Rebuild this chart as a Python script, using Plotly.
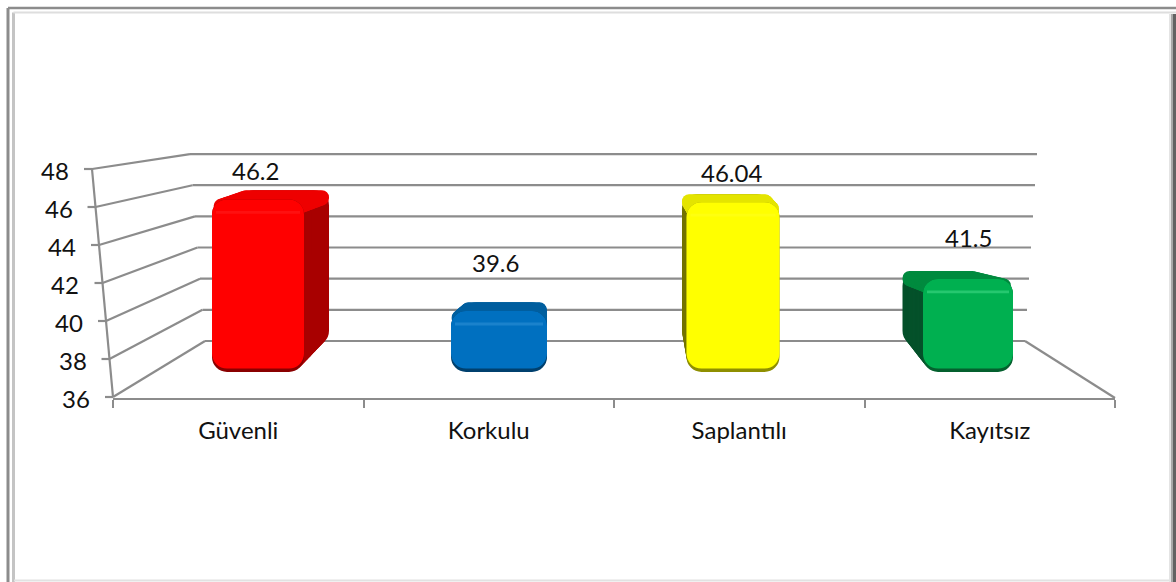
import plotly.graph_objects as go

# ---------- data ----------
categories = ["Güvenli", "Korkulu", "Saplantılı", "Kayıtsız"]
values = [46.2, 39.6, 46.04, 41.5]
y_ticks = [36, 38, 40, 42, 44, 46, 48]

# ---------- style ----------
W, H = 1176, 582
FONT = "Lato"
GRID = "#8c8c8c"
main_col = ["#ff0000", "#0070c0", "#ffff00", "#00b050"]
top_col = ["#ee0000", "#005f9f", "#e4e400", "#008a3e"]
side_col = ["#a80000", "#005a98", "#747400", "#04512a"]
edge_col = ["#8a0000", "#00406e", "#8f8f00", "#04602e"]
light_col = ["#ff1010", "#1a82cc", "#ffff10", "#25c86f"]
front_w = [92, 96, 93, 90]
front_nudge = [0, 4, 1, -1]
back_w = [90, 85, 90, 77]
back_dx = [26, 5, -6, -27]
back_rise = [0.55, 0.53, 0.47, 0.47]
label_shift_y = [29, 49, 30, 41]
label_shift_x = [-3, 0, -1, -1]

UNIT = 237.0            # px per category on the bar axis
X2_L, X2_R = 139.5, 1087.5
Y2_36, Y2_48 = 372, 169
LIFT = 1.55
N = 16


def xp(px):
    return px / W


def yp(py):
    return 1 - py / H


fig = go.Figure()
# invisible trace that gives the front floor axis its categories
fig.add_trace(go.Scatter(x=categories, y=[36] * 4, mode="markers", opacity=0,
                         showlegend=False, hoverinfo="skip"))


def layer(tops, bases, widths, offs, colors, radius):
    fig.add_trace(go.Bar(
        x=list(range(len(categories))),
        y=[t - b for t, b in zip(tops, bases)],
        base=bases, width=widths, offset=offs,
        marker=dict(color=colors, line=dict(width=0), cornerradius=radius),
        xaxis="x2", yaxis="y2", showlegend=False, hoverinfo="skip",
        cliponaxis=False))


def depth_geom(k):
    widths, offs = [], []
    for i in range(len(categories)):
        w = (front_w[i] + (back_w[i] - front_w[i]) * k)
        c = front_nudge[i] + back_dx[i] * k
        widths.append(w / UNIT)
        offs.append((c - w / 2) / UNIT)
    return widths, offs


# extrusion: side colour from back to front
for n in range(N, 0, -1):
    k = n / N
    w, o = depth_geom(k)
    layer([v + r * k for v, r in zip(values, back_rise)],
          [36 + LIFT * k] * 4, w, o, side_col, 15)
# extrusion: top face
for n in range(N, 0, -1):
    k = n / N
    w, o = depth_geom(k)
    tops = [v + r * k for v, r in zip(values, back_rise)]
    layer(tops, [t - 0.9 for t in tops], w, o, top_col, 12)

# front face
w, o = depth_geom(0)
layer(values, [36] * 4, w, o, edge_col, 15)
layer(values, [36.2] * 4, w, o, main_col, 15)
w2 = [x - 8 / UNIT for x in w]
o2 = [x + 4 / UNIT for x in o]
layer([v - 0.68 for v in values], [v - 0.85 for v in values], w2, o2, light_col, 0)

shapes = []


def line(x0, y0, x1, y1, color=GRID, width=2.2, layer_="below"):
    shapes.append(dict(type="line", xref="paper", yref="paper", layer=layer_,
                       x0=xp(x0), y0=yp(y0), x1=xp(x1), y1=yp(y1),
                       line=dict(color=color, width=width)))


annotations = []
for v in y_ticks:
    d = v - 36
    fy = 397 - d * 19
    fx = 113 - d * 1.75
    by = 341 - d * 15.58
    bl = 205 - d * 1.25
    br = 1025 + d * 1.0
    line(fx - 8, fy, fx, fy)                 # tick
    line(fx, fy, bl, by)                     # left wall
    line(bl, by, br, by)                     # back wall
    annotations.append(dict(text=str(v), xref="paper", yref="paper",
                            x=xp(fx - 21), y=yp(fy + 1), xanchor="right", yanchor="middle",
                            showarrow=False, font=dict(family=FONT, size=24, color="#111111")))
line(92, 169, 113, 397)          # slanted value axis
line(1025, 341, 1115, 398)       # right floor edge

# frame
line(8, 8, 8, 582, "#8c8c8c", 3, "above")
line(8, 8, 1176, 8, "#8c8c8c", 2.5, "above")
line(13.5, 12.5, 13.5, 582, "#c4c4c4", 3, "above")
line(13.5, 12.5, 1176, 12.5, "#dedede", 2, "above")
line(14, 580.5, 1170, 580.5, "#e2e2e2", 2, "above")
line(1170, 14, 1170, 582, "#e4e4e4", 2, "above")
line(1172, 14, 1172, 582, "#a8a8a8", 2, "above")
line(1174.5, 14, 1174.5, 582, "#626262", 3, "above")

# data labels
for i, v in enumerate(values):
    annotations.append(dict(text=str(v), xref="x2", yref="y2", x=i, y=v,
                            xshift=label_shift_x[i], yshift=label_shift_y[i],
                            xanchor="center", yanchor="middle", showarrow=False,
                            font=dict(family=FONT, size=24, color="#111111")))

fig.update_layout(
    width=W, height=H, autosize=False,
    margin=dict(l=0, r=0, t=0, b=0),
    paper_bgcolor="white", plot_bgcolor="rgba(0,0,0,0)",
    barmode="overlay", showlegend=False,
    shapes=shapes, annotations=annotations,
    font=dict(family=FONT, color="#111111"),
    xaxis=dict(domain=[xp(113), xp(1115)], type="category", categoryorder="array",
               categoryarray=categories, range=[-0.5, 3.5], tickson="boundaries",
               ticks="outside", ticklen=8, tickwidth=2, tickcolor=GRID,
               showgrid=False, zeroline=False, showline=True, linecolor=GRID, linewidth=2.2,
               tickfont=dict(family=FONT, size=24, color="#111111"),
               ticklabelstandoff=10, anchor="y"),
    yaxis=dict(domain=[yp(398), yp(169)], range=[36, 48], visible=False, anchor="x"),
    xaxis2=dict(domain=[xp(X2_L), xp(X2_R)], range=[-0.5, 3.5], visible=False, anchor="y2"),
    yaxis2=dict(domain=[yp(Y2_36), yp(Y2_48)], range=[36, 48], visible=False, anchor="x2"),
)

fig.write_html("out.html", config=dict(displayModeBar=False),
               post_script="document.body.style.margin='0';document.body.style.overflow='hidden';")
